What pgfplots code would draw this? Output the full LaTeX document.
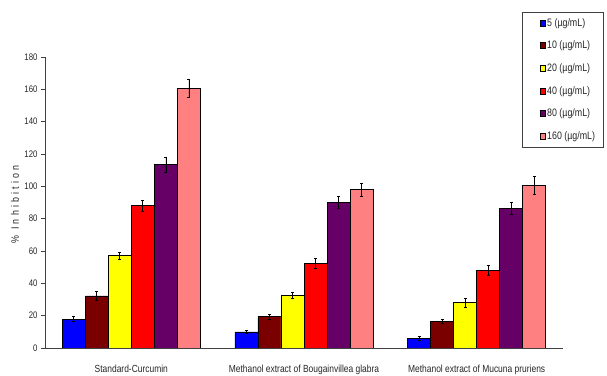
\documentclass[border=0pt]{standalone}
\usepackage{pgfplots}
\pgfplotsset{compat=1.18}
\usepackage{fontspec}
\setmainfont[FakeStretch=0.82]{Liberation Sans}
\newfontfamily\spacedfont[FakeStretch=0.82, LetterSpace=30]{Liberation Sans}

\definecolor{c5}{HTML}{0000FF}
\definecolor{c10}{HTML}{7A0000}
\definecolor{c20}{HTML}{FFFF00}
\definecolor{c40}{HTML}{FF0000}
\definecolor{c80}{HTML}{660066}
\definecolor{c160}{HTML}{FF8080}

\newcommand{\chartfont}{\fontsize{9.5bp}{11bp}\selectfont}
\newcommand{\labelfont}{\fontsize{10.3bp}{12bp}\selectfont}
\newcommand{\legendfont}{\fontsize{10.8bp}{12bp}\selectfont}

\begin{document}
\begin{tikzpicture}
\path[use as bounding box] (0,0) rectangle (607bp,376bp);
\begin{axis}[
  at={(45bp,28bp)}, anchor=south west,
  scale only axis, width=518bp, height=291bp,
  axis lines=left,
  axis line style={-, black!75, line width=0.8bp},
  xmin=-0.5, xmax=2.5,
  ymin=0, ymax=180,
  ytick={0,20,...,180},
  xtick={0,1,2},
  xticklabels={Standard-Curcumin, Methanol extract of Bougainvillea glabra, Methanol extract of Mucuna pruriens},
  x tick style={draw=none},
  extra x ticks={0.5,1.5,2.5},
  extra x tick labels={},
  extra x tick style={major tick length=4bp, tick align=outside, tick style={draw=black!75, line width=0.8bp}},
  y tick style={draw=black!75, line width=0.8bp},
  major tick length=4bp,
  tick align=outside,
  tick label style={font=\chartfont, text=black!85},
  /pgf/number format/assume math mode=true,
  xticklabel style={font=\labelfont, yshift=-10bp},
  ylabel={\spacedfont\% Inhibition},
  ylabel style={font=\fontsize{10.8bp}{12bp}\selectfont, text=black!85, at={(axis description cs:-0.058,0.494)}, anchor=center},
  ybar=0pt,
  bar width=0.1333,
  every axis plot/.append style={draw=black, line width=0.8bp},
  error bars/y dir=both,
  error bars/y explicit,
  error bars/error bar style={black, line width=0.7bp},
  error bars/error mark options={rotate=90, mark size=1.5bp, black, line width=0.7bp},
  legend cell align=left,
  legend style={
    at={(0.921,1.155)}, anchor=north west,
    draw=black!75, line width=0.8bp, fill=white,
    font=\legendfont, text=black!85,
    inner xsep=6bp, inner ysep=4bp,
    row sep=9.4bp,
  },
  legend image code/.code={
    \path (-11bp,0bp);
    \draw[#1, draw=black, line width=0.6bp] (0bp,-3bp) rectangle (5bp,3bp);
  },
]
% concentration series: x = sample group, y = % inhibition, error = SD
\addplot[fill=c5] coordinates {(0,17.8) +- (0,1.6) (1,9.9) +- (0,1.0) (2,5.8) +- (0,1.3)};
\addlegendentry{5 (µg/mL)}
\addplot[fill=c10] coordinates {(0,32.2) +- (0,2.6) (1,19.4) +- (0,1.7) (2,16.5) +- (0,1.0)};
\addlegendentry{10 (µg/mL)}
\addplot[fill=c20] coordinates {(0,57.0) +- (0,2.3) (1,32.4) +- (0,1.8) (2,28.1) +- (0,2.8)};
\addlegendentry{20 (µg/mL)}
\addplot[fill=c40] coordinates {(0,87.9) +- (0,3.4) (1,52.4) +- (0,2.9) (2,48.1) +- (0,2.9)};
\addlegendentry{40 (µg/mL)}
\addplot[fill=c80] coordinates {(0,113.3) +- (0,4.6) (1,90.2) +- (0,3.8) (2,86.3) +- (0,3.7)};
\addlegendentry{80 (µg/mL)}
\addplot[fill=c160] coordinates {(0,160.4) +- (0,5.5) (1,97.9) +- (0,3.8) (2,100.7) +- (0,5.7)};
\addlegendentry{160 (µg/mL)}

\node[font=\chartfont, text=black!85] at (axis description cs:0.5,1.134) {Superoxide anion radical scavenging assay};
\end{axis}
\end{tikzpicture}
\end{document}
